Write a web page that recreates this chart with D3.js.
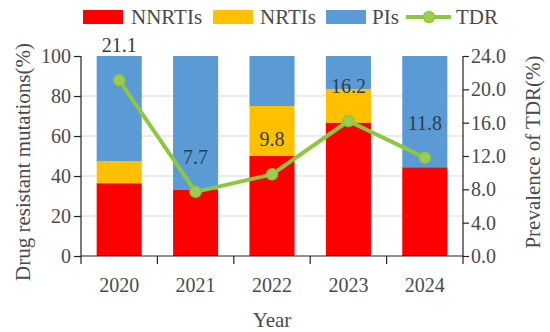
<!DOCTYPE html>
<html>
<head>
<meta charset="utf-8">
<script src="https://cdn.jsdelivr.net/npm/d3@7"></script>
<style>
  body { margin: 0; background: #fff; }
  text { font-family: 'Liberation Serif', serif; }
</style>
</head>
<body>
<script>
// chart data
let years = ['2020', '2021', '2022', '2023', '2024']
let nnrtis = [36.4, 33.3, 50.0, 66.7, 44.4]
let nrtis = [11.0, 0, 25.0, 16.7, 0]
let pis = [52.6, 66.7, 25.0, 16.6, 55.6]
let tdr = [21.1, 7.7, 9.8, 16.2, 11.8]
let leftTicks = [0, 20, 40, 60, 80, 100]
let rightTicks = [0, 4, 8, 12, 16, 20, 24]

let width = 550
let height = 332
let plotLeft = 81
let plotRight = 463
let plotTop = 56
let plotBottom = 256

let colors = {NNRTIs: '#ff0000', NRTIs: '#ffc000', PIs: '#5b9bd5'}
let green = '#8fc641'
let tickColor = '#4a4a4a'

let svg = d3.select('body').append('svg').attr('width', width).attr('height', height)

let xScale = d3.scaleBand()
               .domain(years)
               .range([plotLeft, plotRight])
               .paddingInner(0.41)
               .paddingOuter(0.205)

let yScale = d3.scaleLinear().domain([0, 100]).range([plotBottom, plotTop])
let y2Scale = d3.scaleLinear().domain([0, 24]).range([plotBottom, plotTop])

// gridlines
svg.append('g')
   .selectAll('line')
   .data(leftTicks.filter(d => d > 0 && d < 100))
   .enter()
   .append('line')
   .attr('x1', plotLeft)
   .attr('x2', plotRight)
   .attr('y1', d => yScale(d))
   .attr('y2', d => yScale(d))
   .attr('stroke', '#d9d9d9')
   .attr('stroke-width', 1)

// stacked bars
let rows = years.map((y, i) => ({year: y, NNRTIs: nnrtis[i], NRTIs: nrtis[i], PIs: pis[i]}))
let stack = d3.stack().keys(['NNRTIs', 'NRTIs', 'PIs'])(rows)

svg.append('g')
   .selectAll('g')
   .data(stack)
   .enter()
   .append('g')
   .attr('fill', s => colors[s.key])
   .selectAll('rect')
   .data(s => s)
   .enter()
   .append('rect')
   .attr('x', d => xScale(d.data.year))
   .attr('width', xScale.bandwidth())
   .attr('y', d => yScale(Math.min(100, d[1])))
   .attr('height', d => yScale(d[0]) - yScale(Math.min(100, d[1])))

// axes
let yAxis = d3.axisLeft(yScale).tickValues(leftTicks).tickSize(7).tickPadding(3)
let y2Axis = d3.axisRight(y2Scale).tickValues(rightTicks).tickSize(6).tickPadding(2)
                .tickFormat(d3.format('.1f'))

let styleAxis = g => {
  g.attr('font-family', null)
  g.selectAll('path, line').attr('stroke', '#222').attr('stroke-width', 1.2)
  g.selectAll('text').attr('fill', tickColor).style('font-size', '20px')
   .style('font-family', 'Liberation Serif, serif')
}

svg.append('g')
   .attr('transform', 'translate(' + plotLeft + ',0)')
   .call(yAxis)
   .call(g => g.select('.domain').attr('d', 'M0,' + plotTop + 'V' + plotBottom))
   .call(styleAxis)

svg.append('g')
   .attr('transform', 'translate(' + plotRight + ',0)')
   .call(y2Axis)
   .call(g => g.select('.domain').attr('d', 'M0,' + plotTop + 'V' + plotBottom))
   .call(styleAxis)

// x axis: line, ticks at the band edges, labels at the centres
let xg = svg.append('g')
xg.append('line')
  .attr('x1', plotLeft).attr('x2', plotRight)
  .attr('y1', plotBottom).attr('y2', plotBottom)
  .attr('stroke', '#222').attr('stroke-width', 1.2)

xg.selectAll('.edge')
  .data(d3.range(years.length + 1))
  .enter()
  .append('line')
  .attr('class', 'edge')
  .attr('x1', i => plotLeft + i * xScale.step())
  .attr('x2', i => plotLeft + i * xScale.step())
  .attr('y1', plotBottom)
  .attr('y2', plotBottom + 8)
  .attr('stroke', '#222').attr('stroke-width', 1.2)

xg.selectAll('.lbl')
  .data(years)
  .enter()
  .append('text')
  .attr('class', 'lbl')
  .attr('x', d => xScale(d) + xScale.bandwidth() / 2)
  .attr('y', 292)
  .attr('text-anchor', 'middle')
  .attr('fill', tickColor)
  .style('font-size', '20px')
  .text(d => d)

// axis titles
svg.append('text')
   .attr('x', (plotLeft + plotRight) / 2)
   .attr('y', 327)
   .attr('text-anchor', 'middle')
   .attr('fill', tickColor)
   .style('font-size', '21px')
   .text('Year')

svg.append('text')
   .attr('transform', 'translate(30,162) rotate(-90)')
   .attr('text-anchor', 'middle')
   .attr('fill', tickColor)
   .style('font-size', '21px')
   .text('Drug resistant mutations(%)')

svg.append('text')
   .attr('transform', 'translate(540,152) rotate(-90)')
   .attr('text-anchor', 'middle')
   .attr('fill', tickColor)
   .style('font-size', '21px')
   .text('Prevalence of TDR(%)')

// TDR line
let cx = (d, i) => xScale(years[i]) + xScale.bandwidth() / 2

let line = d3.line()
             .x(cx)
             .y(d => y2Scale(d))

svg.append('path')
   .datum(tdr)
   .attr('d', line)
   .attr('fill', 'none')
   .attr('stroke', green)
   .attr('stroke-width', 4)
   .attr('stroke-linejoin', 'round')

svg.append('g')
   .selectAll('circle')
   .data(tdr)
   .enter()
   .append('circle')
   .attr('cx', cx)
   .attr('cy', d => y2Scale(d))
   .attr('r', 5.5)
   .attr('fill', '#9dcc52')
   .attr('stroke', green)
   .attr('stroke-width', 1.5)

svg.append('g')
   .selectAll('text')
   .data(tdr)
   .enter()
   .append('text')
   .attr('x', cx)
   .attr('y', d => y2Scale(d) - 28)
   .attr('text-anchor', 'middle')
   .attr('fill', '#2b3e4a')
   .style('font-size', '20px')
   .text(d => d3.format('.1f')(d))

// legend
let legend = svg.append('g')
let items = [
  {name: 'NNRTIs', x: 83, tx: 131, color: colors.NNRTIs},
  {name: 'NRTIs', x: 213, tx: 260, color: colors.NRTIs},
  {name: 'PIs', x: 326, tx: 372, color: colors.PIs}
]
items.forEach(it => {
  legend.append('rect')
        .attr('x', it.x).attr('y', 10)
        .attr('width', 40).attr('height', 14)
        .attr('fill', it.color)
  legend.append('text')
        .attr('x', it.tx).attr('y', 24)
        .attr('fill', tickColor)
        .style('font-size', '21px')
        .text(it.name)
})
legend.append('line')
      .attr('x1', 406).attr('x2', 451)
      .attr('y1', 17).attr('y2', 17)
      .attr('stroke', green).attr('stroke-width', 4)
legend.append('circle')
      .attr('cx', 429).attr('cy', 17).attr('r', 5.5)
      .attr('fill', '#9dcc52').attr('stroke', green).attr('stroke-width', 1.5)
legend.append('text')
      .attr('x', 456).attr('y', 24)
      .attr('fill', tickColor)
      .style('font-size', '21px')
      .text('TDR')
</script>
</body>
</html>
